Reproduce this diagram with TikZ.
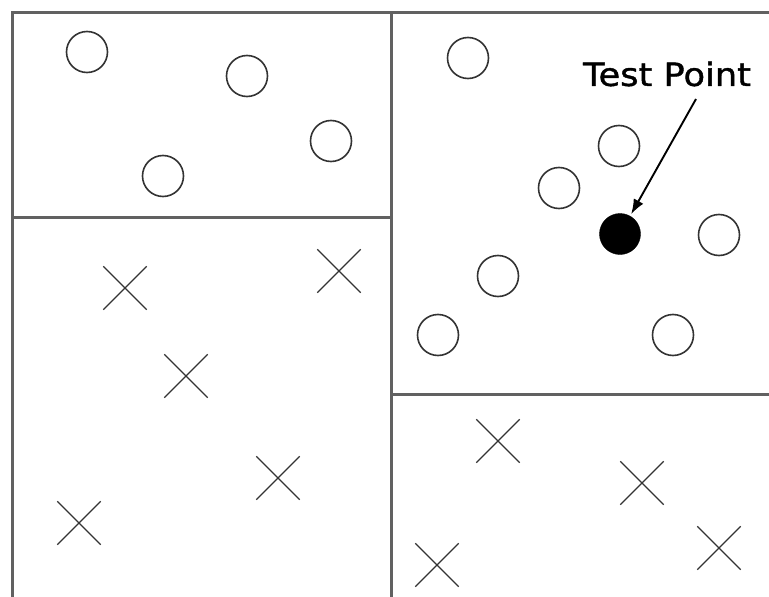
\documentclass[tikz,border=0pt]{standalone}
\usepackage{fontspec}
\setmainfont{DejaVu Sans}
\newfontfamily\labelfont[FakeStretch=1.1,FakeBold=1.2]{DejaVu Sans}
\usetikzlibrary{shapes.misc,arrows.meta}
\begin{document}
\begin{tikzpicture}[x=1pt,y=-1pt,
  frame/.style={draw=black!62,line width=3pt},
  opendot/.style={circle,draw=black!80,line width=1.6pt,minimum size=41pt,inner sep=0pt},
  filldot/.style={circle,fill=black,draw=black,minimum size=41pt,inner sep=0pt},
  xmark/.style={cross out,draw=black!80,line width=1.3pt,minimum size=42pt,inner sep=0pt},
  pointer/.style={line width=1.9pt,-{Latex[length=15pt,width=11pt]},shorten >=2pt}]
\useasboundingbox (0,0) rectangle (769,597);
\fill[white] (0,0) rectangle (769,597);

% partition lines of the plane
\coordinate (tl) at (12,12);
\coordinate (tr) at (769,12);
\coordinate (bl) at (12,597);
\coordinate (mt) at (391,12);
\coordinate (mb) at (391,597);
\coordinate (ml) at (12,217);
\coordinate (mm) at (391,217);
\coordinate (rm) at (391,394);
\coordinate (rr) at (769,394);
\draw[frame] (bl) -- (tl) -- (tr);
\draw[frame] (mt) -- (mb);
\draw[frame] (ml) -- (mm);
\draw[frame] (rm) -- (rr);

% class O, upper-left cell
\node[opendot] (a1) at (87,52) {};
\node[opendot] (a2) at (247,76) {};
\node[opendot] (a3) at (331,141) {};
\node[opendot] (a4) at (163,176) {};

% class O, upper-right cell
\node[opendot] (b1) at (468,58) {};
\node[opendot] (b2) at (619,146) {};
\node[opendot] (b3) at (559,188) {};
\node[opendot] (b4) at (719,235) {};
\node[opendot] (b5) at (498,276) {};
\node[opendot] (b6) at (438,335) {};
\node[opendot] (b7) at (673,335) {};

% query point
\node[filldot] (test) at (620,234) {};
\node (label) at (667,74) {\labelfont\fontsize{32}{36}\selectfont Test Point};
\coordinate (from) at (696,99);
\draw[pointer] (from) -- (test);

% class X, lower-left cell
\node[xmark] (x1) at (125,288) {};
\node[xmark] (x2) at (339,271) {};
\node[xmark] (x3) at (186,376) {};
\node[xmark] (x4) at (278,478) {};
\node[xmark] (x5) at (79,523) {};

% class X, lower-right cell
\node[xmark] (y1) at (498,441) {};
\node[xmark] (y2) at (642,483) {};
\node[xmark] (y3) at (437,565) {};
\node[xmark] (y4) at (719,548) {};
\end{tikzpicture}
\end{document}
